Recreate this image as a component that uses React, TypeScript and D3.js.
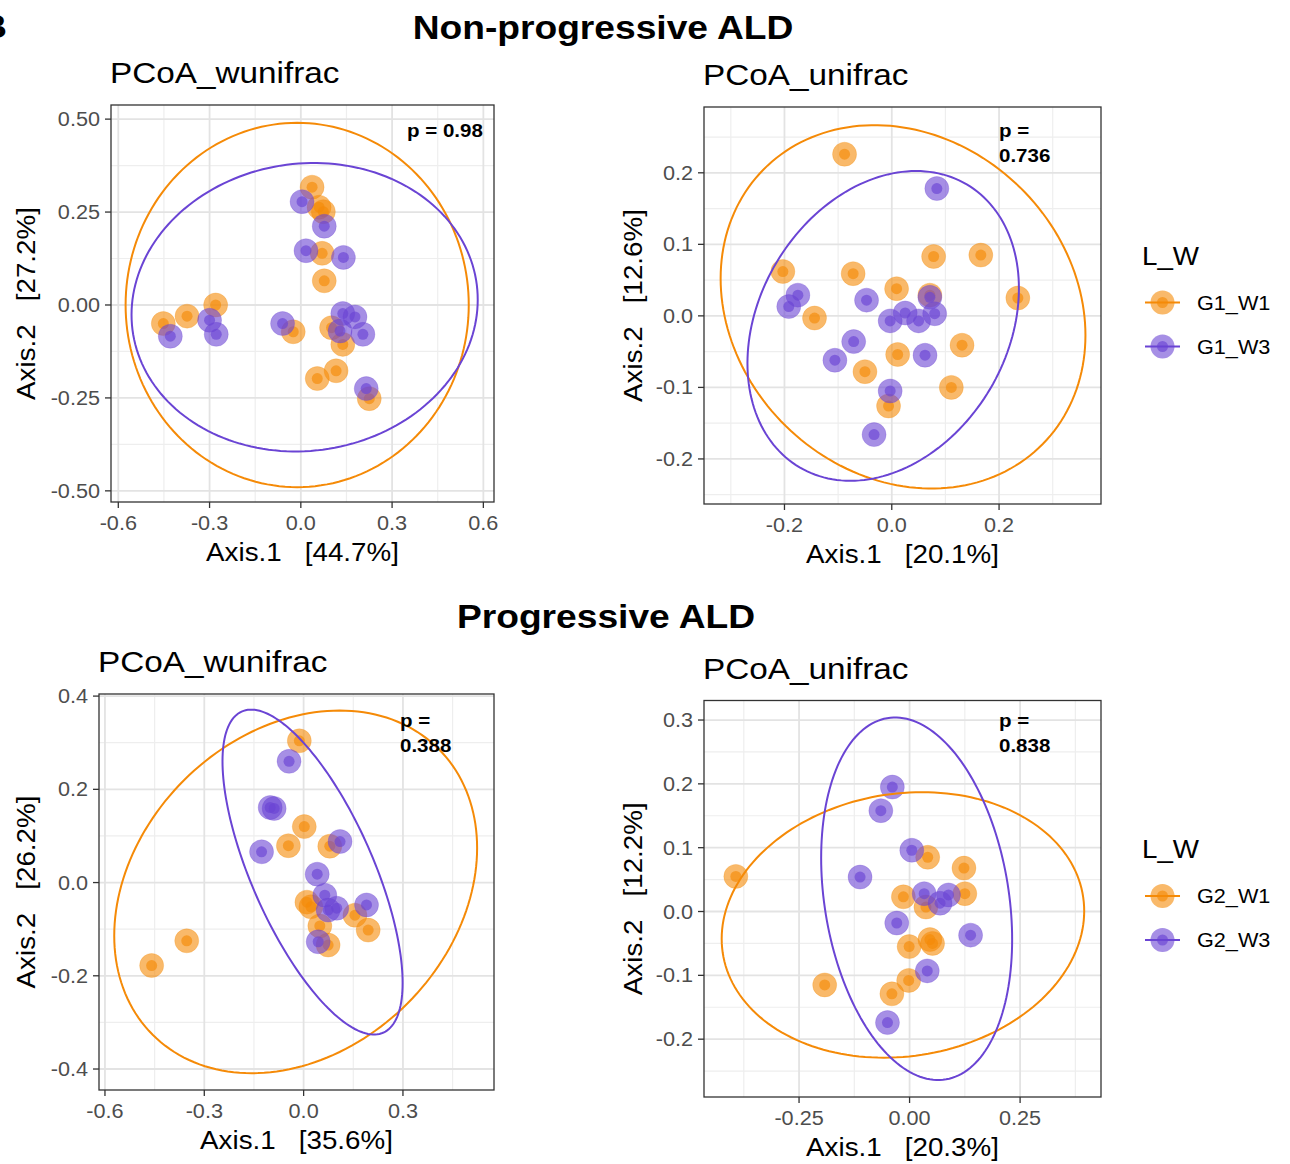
import * as d3 from "d3";

type Pt = [number, number];
type Ell = { cx: number; cy: number; hw: number; hh: number; phi: number };

const W1_COLOR = "#F58A07";
const W3_COLOR = "#6A44D4";
const FONT = "'Liberation Sans', Arial, Helvetica, sans-serif";
const STRETCH = 1.11;

// ---- Non-progressive ALD, PCoA_wunifrac
const npWuW1: Pt[] = [
  [0.037, 0.317], [0.06, 0.263], [0.074, 0.251], [0.07, 0.139], [0.077, 0.065],
  [-0.452, -0.05], [-0.374, -0.03], [-0.28, 0.0], [-0.025, -0.072], [0.101, -0.061],
  [0.138, -0.106], [0.054, -0.198], [0.116, -0.177], [0.225, -0.252],
];
const npWuW3: Pt[] = [
  [0.004, 0.278], [0.077, 0.212], [0.017, 0.146], [0.14, 0.128], [-0.429, -0.084],
  [-0.3, -0.041], [-0.278, -0.079], [-0.06, -0.05], [0.138, -0.023], [0.178, -0.032],
  [0.129, -0.07], [0.204, -0.079], [0.215, -0.225],
];
const npWuEll: Ell[] = [
  { cx: -0.012, cy: 0.0, hw: 0.564, hh: 0.49, phi: 90 },
  { cx: 0.0125, cy: -0.006, hw: 0.569, hh: 0.388, phi: 87 },
];

// ---- Non-progressive ALD, PCoA_unifrac
const npUW1: Pt[] = [
  [-0.088, 0.226], [-0.203, 0.062], [-0.072, 0.059], [-0.144, -0.003], [0.078, 0.083],
  [0.166, 0.085], [0.009, 0.038], [0.071, 0.029], [0.235, 0.025], [0.011, -0.054],
  [0.131, -0.041], [-0.05, -0.078], [0.111, -0.1], [-0.006, -0.126],
];
const npUW3: Pt[] = [
  [0.084, 0.178], [-0.175, 0.029], [-0.192, 0.013], [-0.047, 0.022], [0.025, 0.004],
  [-0.003, -0.007], [0.05, -0.007], [0.08, 0.003], [0.071, 0.026], [-0.071, -0.036],
  [-0.106, -0.062], [0.062, -0.055], [-0.003, -0.105], [-0.033, -0.166],
];
const npUEll: Ell[] = [
  { cx: 0.021, cy: 0.0126, hw: 0.34, hh: 0.254, phi: 99 },
  { cx: -0.016, cy: -0.014, hw: 0.253, hh: 0.2165, phi: 76 },
];

// ---- Progressive ALD, PCoA_wunifrac
const pWuW1: Pt[] = [
  [-0.013, 0.304], [0.002, 0.12], [-0.046, 0.079], [0.079, 0.078], [0.01, -0.042],
  [0.022, -0.052], [0.155, -0.07], [0.195, -0.102], [0.049, -0.093], [0.074, -0.134],
  [-0.353, -0.125], [-0.459, -0.178],
];
const pWuW3: Pt[] = [
  [-0.044, 0.26], [-0.101, 0.161], [-0.089, 0.159], [-0.127, 0.066], [0.11, 0.088],
  [0.041, 0.018], [0.064, -0.027], [0.074, -0.059], [0.1, -0.055], [0.19, -0.048],
  [0.044, -0.127],
];
const pWuEll: Ell[] = [
  { cx: -0.024, cy: -0.02, hw: 0.548, hh: 0.389, phi: 76 },
  { cx: 0.027, cy: 0.0225, hw: 0.272, hh: 0.3485, phi: 133 },
];

// ---- Progressive ALD, PCoA_unifrac
const pUW1: Pt[] = [
  [-0.393, 0.055], [0.041, 0.085], [0.123, 0.068], [-0.014, 0.023], [0.037, 0.007],
  [0.125, 0.028], [0.046, -0.044], [0.052, -0.05], [-0.001, -0.055], [-0.002, -0.108],
  [-0.04, -0.129], [-0.192, -0.115],
];
const pUW3: Pt[] = [
  [-0.039, 0.195], [-0.065, 0.158], [0.005, 0.096], [-0.112, 0.054], [0.033, 0.028],
  [0.069, 0.013], [0.088, 0.026], [-0.029, -0.018], [0.138, -0.037], [0.04, -0.093],
  [-0.05, -0.174],
];
const pUEll: Ell[] = [
  { cx: -0.015, cy: -0.021, hw: 0.41, hh: 0.208, phi: 84 },
  { cx: 0.016, cy: 0.02, hw: 0.216, hh: 0.284, phi: 103 },
];

// ticks
const ticksWuX = [-0.6, -0.3, 0, 0.3, 0.6];
const ticksNpWuY = [-0.5, -0.25, 0, 0.25, 0.5];
const ticksNpUX = [-0.2, 0, 0.2];
const ticksNpUY = [-0.2, -0.1, 0, 0.1, 0.2];
const ticksPWuY = [-0.4, -0.2, 0, 0.2, 0.4];
const ticksPUX = [-0.25, 0, 0.25];
const ticksPUY = [-0.2, -0.1, 0, 0.1, 0.2, 0.3];

const groupsNp = ["G1_W1", "G1_W3"];
const groupsP = ["G2_W1", "G2_W3"];

function minors(ticks: number[], dom: [number, number]) {
  const step = ticks[1] - ticks[0];
  const out: number[] = [];
  for (let v = ticks[0] - step / 2; v <= dom[1]; v += step) {
    if (v >= dom[0]) out.push(+v.toFixed(4));
  }
  return out;
}

function T(props: any) {
  const { x, y, size, weight, anchor, fill, rot, children, dy } = props;
  return (
    <text
      transform={`translate(${x},${y}) rotate(${rot || 0}) scale(${STRETCH},1)`}
      fontSize={size}
      fontWeight={weight || "normal"}
      textAnchor={anchor || "start"}
      fill={fill || "#000"}
      fontFamily={FONT}
      dy={dy || 0}
      style={{ whiteSpace: "pre" }}
    >
      {children}
    </text>
  );
}

function ellipsePath(e: Ell, x: any, y: any) {
  const phi = (e.phi * Math.PI) / 180;
  const ts = d3.range(0, 360, 2).map((d) => (d * Math.PI) / 180);
  return d3
    .line<number>()
    .x((t) => x(e.cx + e.hw * Math.cos(t)))
    .y((t) => y(e.cy + e.hh * Math.cos(t - phi)))
    .curve(d3.curveLinearClosed)(ts) as string;
}

function Panel(props: any) {
  const { box, xDom, yDom, xTicks, yTicks, xFmt, yFmt, title, xTitle, yTitle, yTitleX, w1, w3, ells, pLines, pPos } = props;
  const [x0, y0, x1, y1] = box;
  const x = d3.scaleLinear().domain(xDom).range([x0, x1]);
  const y = d3.scaleLinear().domain(yDom).range([y1, y0]);
  const xm = minors(xTicks, xDom);
  const ym = minors(yTicks, yDom);
  const colors = [W1_COLOR, W3_COLOR];
  return (
    <g>
      <rect x={x0} y={y0} width={x1 - x0} height={y1 - y0} fill="#fff" />
      {xm.map((v) => (
        <line key={"xm" + v} x1={x(v)} x2={x(v)} y1={y0} y2={y1} stroke="#EEEEEE" strokeWidth={1.2} />
      ))}
      {ym.map((v) => (
        <line key={"ym" + v} x1={x0} x2={x1} y1={y(v)} y2={y(v)} stroke="#EEEEEE" strokeWidth={1.2} />
      ))}
      {xTicks.map((v: number) => (
        <line key={"xg" + v} x1={x(v)} x2={x(v)} y1={y0} y2={y1} stroke="#E3E3E3" strokeWidth={1.8} />
      ))}
      {yTicks.map((v: number) => (
        <line key={"yg" + v} x1={x0} x2={x1} y1={y(v)} y2={y(v)} stroke="#E3E3E3" strokeWidth={1.8} />
      ))}
      {[w1, w3].map((pts: Pt[], gi: number) => (
        <g key={"g" + gi}>
          {pts.map((p, i) => (
            <g key={i}>
              <circle cx={x(p[0])} cy={y(p[1])} r={12} fill={colors[gi]} fillOpacity={0.6} stroke={colors[gi]} strokeOpacity={0.25} strokeWidth={1} />
              <circle cx={x(p[0])} cy={y(p[1])} r={5.5} fill={colors[gi]} fillOpacity={0.65} />
            </g>
          ))}
        </g>
      ))}
      {ells.map((e: Ell, i: number) => (
        <path key={"e" + i} d={ellipsePath(e, x, y)} fill="none" stroke={colors[i]} strokeWidth={2} />
      ))}
      <rect x={x0} y={y0} width={x1 - x0} height={y1 - y0} fill="none" stroke="#333" strokeWidth={1.3} />
      {xTicks.map((v: number) => (
        <g key={"xt" + v}>
          <line x1={x(v)} x2={x(v)} y1={y1} y2={y1 + 6} stroke="#333" strokeWidth={1.3} />
          <T x={x(v)} y={y1 + 28} size={19.5} anchor="middle" fill="#4D4D4D">{xFmt(v)}</T>
        </g>
      ))}
      {yTicks.map((v: number) => (
        <g key={"yt" + v}>
          <line x1={x0 - 6} x2={x0} y1={y(v)} y2={y(v)} stroke="#333" strokeWidth={1.3} />
          <T x={x0 - 11} y={y(v)} dy="0.36em" size={19.5} anchor="end" fill="#4D4D4D">{yFmt(v)}</T>
        </g>
      ))}
      <T x={x0 - 1} y={y0 - 22} size={30}>{title}</T>
      <T x={(x0 + x1) / 2} y={y1 + 59} size={25} anchor="middle">{xTitle}</T>
      <T x={yTitleX} y={(y0 + y1) / 2} size={25} anchor="middle" rot={-90}>{yTitle}</T>
      {pLines.map((s: string, i: number) => (
        <T key={"p" + i} x={pPos[0]} y={pPos[1] + i * 25} size={18.5} weight="bold">{s}</T>
      ))}
    </g>
  );
}

function Legend(props: any) {
  const { x0, titleY, keyYs, labels } = props;
  const colors = [W1_COLOR, W3_COLOR];
  return (
    <g>
      <T x={x0} y={titleY} size={25}>L_W</T>
      {labels.map((l: string, i: number) => (
        <g key={l}>
          <line x1={x0 + 3} x2={x0 + 38} y1={keyYs[i]} y2={keyYs[i]} stroke={colors[i]} strokeWidth={2} />
          <circle cx={x0 + 20.5} cy={keyYs[i]} r={12} fill={colors[i]} fillOpacity={0.6} />
          <circle cx={x0 + 20.5} cy={keyYs[i]} r={5.5} fill={colors[i]} fillOpacity={0.65} />
          <T x={x0 + 55} y={keyYs[i]} dy="0.36em" size={19.5}>{l}</T>
        </g>
      ))}
    </g>
  );
}

const f1 = (v: number) => d3.format(".1f")(v).replace("−", "-");
const f2 = (v: number) => d3.format(".2f")(v).replace("−", "-");

export default function App() {
  return (
    <div style={{ position: "absolute", left: 0, top: 0 }}>
      <svg width={1290} height={1164} style={{ display: "block", background: "#fff" }}>
        <T x={7} y={38} size={34} weight="bold" anchor="end">B</T>
        <T x={603} y={39} size={33.5} weight="bold" anchor="middle">Non-progressive ALD</T>
        <T x={606} y={628} size={33.5} weight="bold" anchor="middle">Progressive ALD</T>

        <Panel
          box={[111, 105, 494, 502]}
          xDom={[-0.624, 0.635]}
          yDom={[-0.53, 0.538]}
          xTicks={ticksWuX}
          yTicks={ticksNpWuY}
          xFmt={f1}
          yFmt={f2}
          title="PCoA_wunifrac"
          xTitle="Axis.1   [44.7%]"
          yTitle="Axis.2   [27.2%]"
          yTitleX={35}
          w1={npWuW1}
          w3={npWuW3}
          ells={npWuEll}
          pLines={["p = 0.98"]}
          pPos={[407, 137]}
        />
        <Panel
          box={[704, 107, 1101, 504]}
          xDom={[-0.35, 0.39]}
          yDom={[-0.263, 0.292]}
          xTicks={ticksNpUX}
          yTicks={ticksNpUY}
          xFmt={f1}
          yFmt={f1}
          title="PCoA_unifrac"
          xTitle="Axis.1   [20.1%]"
          yTitle="Axis.2   [12.6%]"
          yTitleX={642}
          w1={npUW1}
          w3={npUW3}
          ells={npUEll}
          pLines={["p =", "0.736"]}
          pPos={[999, 137]}
        />
        <Legend x0={1142} titleY={265} keyYs={[302.5, 346.5]} labels={groupsNp} />

        <Panel
          box={[99, 694, 494, 1090]}
          xDom={[-0.618, 0.575]}
          yDom={[-0.445, 0.4045]}
          xTicks={ticksWuX.slice(0, 4)}
          yTicks={ticksPWuY}
          xFmt={f1}
          yFmt={f1}
          title="PCoA_wunifrac"
          xTitle="Axis.1   [35.6%]"
          yTitle="Axis.2   [26.2%]"
          yTitleX={35}
          w1={pWuW1}
          w3={pWuW3}
          ells={pWuEll}
          pLines={["p =", "0.388"]}
          pPos={[400, 727]}
        />
        <Panel
          box={[704, 700.5, 1101, 1097]}
          xDom={[-0.465, 0.433]}
          yDom={[-0.2906, 0.3306]}
          xTicks={ticksPUX}
          yTicks={ticksPUY}
          xFmt={f2}
          yFmt={f1}
          title="PCoA_unifrac"
          xTitle="Axis.1   [20.3%]"
          yTitle="Axis.2   [12.2%]"
          yTitleX={642}
          w1={pUW1}
          w3={pUW3}
          ells={pUEll}
          pLines={["p =", "0.838"]}
          pPos={[999, 727]}
        />
        <Legend x0={1142} titleY={858} keyYs={[896, 940]} labels={groupsP} />
      </svg>
    </div>
  );
}
